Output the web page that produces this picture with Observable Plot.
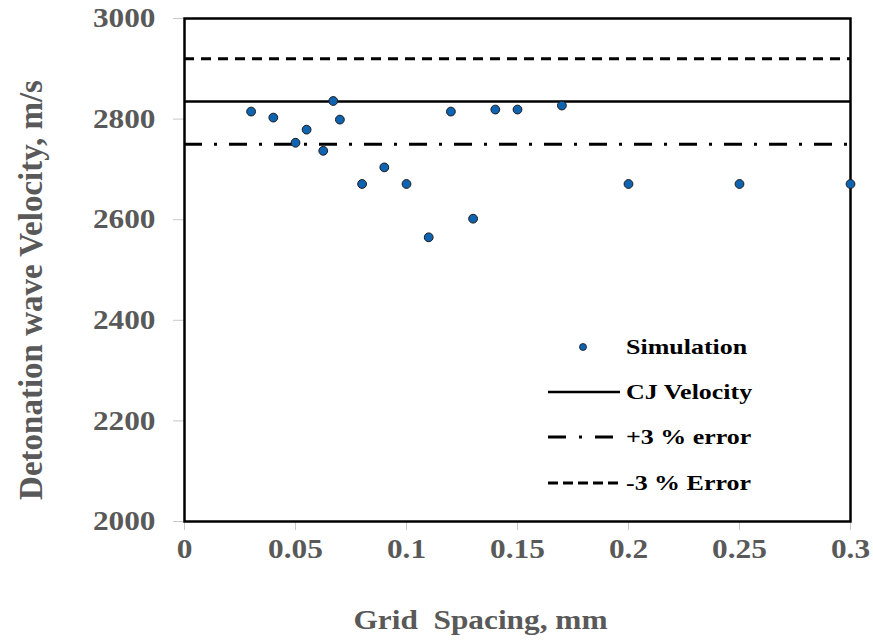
<!DOCTYPE html>
<html>
<head>
<meta charset="utf-8">
<script src="https://cdn.jsdelivr.net/npm/d3@7"></script>
<script src="https://cdn.jsdelivr.net/npm/@observablehq/plot@0.6"></script>
<style>
  html, body { margin: 0; padding: 0; background: #fff; }
  #wrap { position: relative; width: 873px; height: 643px; }
  #legend { position: absolute; left: 546px; top: 324px; font-family: "Liberation Serif", "Times New Roman", serif; font-weight: bold; font-size: 22px; color: #000; }
  #legend .row { display: flex; align-items: center; height: 45.3px; }
  #legend svg { width: 76px; height: 20px; flex: none; }
  #legend span { margin-left: 4px; white-space: pre; display: inline-block; transform: scaleX(1.18); transform-origin: left center; }
</style>
</head>
<body>
<div id="wrap"></div>
<script>
// Data
const gridSpacing = [0.03, 0.04, 0.05, 0.055, 0.0625, 0.067, 0.07, 0.08, 0.09, 0.1, 0.11, 0.12, 0.13, 0.14, 0.15, 0.17, 0.2, 0.25, 0.3];
const velocity    = [2815, 2803, 2753, 2779, 2737, 2836, 2799, 2671, 2704, 2671, 2565, 2815, 2602, 2819, 2819, 2827, 2671, 2671, 2671];
const cjVelocity = 2835;
const plus3Error = 2750;   // "+3 % error" (dash-dot)
const minus3Error = 2920;  // "-3 % Error" (dashed)
const xTicks = [0, 0.05, 0.1, 0.15, 0.2, 0.25, 0.3];
const xTickLabels = ["0", "0.05", "0.1", "0.15", "0.2", "0.25", "0.3"];
const yTicks = [2000, 2200, 2400, 2600, 2800, 3000];
const yTickLabels = ["2000", "2200", "2400", "2600", "2800", "3000"];
const legendLabels = ["Simulation", "CJ Velocity", "+3 % error", "-3 % Error"];
const xTitle = "Grid  Spacing, mm";
const yTitle = "Detonation wave Velocity, m/s";

const points = gridSpacing.map((x, i) => ({x, y: velocity[i]}));

const serif = "'Liberation Serif', 'Times New Roman', serif";
const grey = "#595959";

const chart = Plot.plot({
  width: 873,
  height: 643,
  marginLeft: 184,
  marginRight: 23,
  marginTop: 18,
  marginBottom: 122,
  style: { fontFamily: serif, fontWeight: "bold", background: "#fff" },
  x: { domain: [0, 0.3] },
  y: { domain: [2000, 3000] },
  marks: [
    Plot.axisX({
      ticks: xTicks,
      tickFormat: (d) => xTickLabels[xTicks.indexOf(d)],
      tickSize: 9,
      tickPadding: 8,
      stroke: "#c8c8c8",
      fill: grey,
      fontSize: 27,
      label: null
    }),
    Plot.axisY({
      ticks: yTicks,
      tickFormat: (d) => yTickLabels[yTicks.indexOf(d)],
      tickSize: 11,
      tickPadding: 18,
      stroke: "#c8c8c8",
      fill: grey,
      fontSize: 27,
      label: null
    }),
    Plot.ruleY([minus3Error], { stroke: "#000", strokeWidth: 3, strokeDasharray: "10,7" }),
    Plot.ruleY([cjVelocity], { stroke: "#000", strokeWidth: 2.5 }),
    Plot.ruleY([plus3Error], { stroke: "#000", strokeWidth: 3, strokeDasharray: "18,12,3,12" }),
    Plot.frame({ stroke: "#000", strokeWidth: 2.5 }),
    Plot.dot(points, { x: "x", y: "y", r: 4.4, fill: "#0f64b2", stroke: "#1a1a1a", strokeWidth: 1 }),
    Plot.text([xTitle], { frameAnchor: "bottom", dx: -37, dy: 107, fontSize: 27, fill: grey, fontWeight: "bold" }),
    Plot.text([yTitle], { frameAnchor: "left", textAnchor: "middle", lineAnchor: "middle", rotate: -90, dx: -153, dy: 20, fontSize: 33, fill: grey, fontWeight: "bold" })
  ]
});

const wrap = document.getElementById("wrap");
wrap.appendChild(chart);

// The reference's lettering is slightly stretched horizontally
d3.select(chart).selectAll("text").each(function () {
  if (this.textContent === yTitle) return;
  const L = this.getComputedTextLength();
  if (L > 0) {
    this.setAttribute("textLength", (L * 1.16).toFixed(1));
    this.setAttribute("lengthAdjust", "spacingAndGlyphs");
  }
});

// Legend (inside plot area)
const legend = document.createElement("div");
legend.id = "legend";
const samples = [
  '<circle cx="37" cy="10" r="3.5" fill="#0f64b2" stroke="#1a1a1a" stroke-width="0.8"/>',
  '<line x1="2" x2="74" y1="10" y2="10" stroke="#000" stroke-width="2.5"/>',
  '<line x1="2" x2="74" y1="10" y2="10" stroke="#000" stroke-width="3" stroke-dasharray="18,13,3,13"/>',
  '<line x1="2" x2="74" y1="10" y2="10" stroke="#000" stroke-width="3" stroke-dasharray="10,5"/>'
];
legendLabels.forEach((lab, i) => {
  const row = document.createElement("div");
  row.className = "row";
  row.innerHTML = `<svg viewBox="0 0 76 20">${samples[i]}</svg><span>${lab}</span>`;
  legend.appendChild(row);
});
wrap.appendChild(legend);
</script>
</body>
</html>
